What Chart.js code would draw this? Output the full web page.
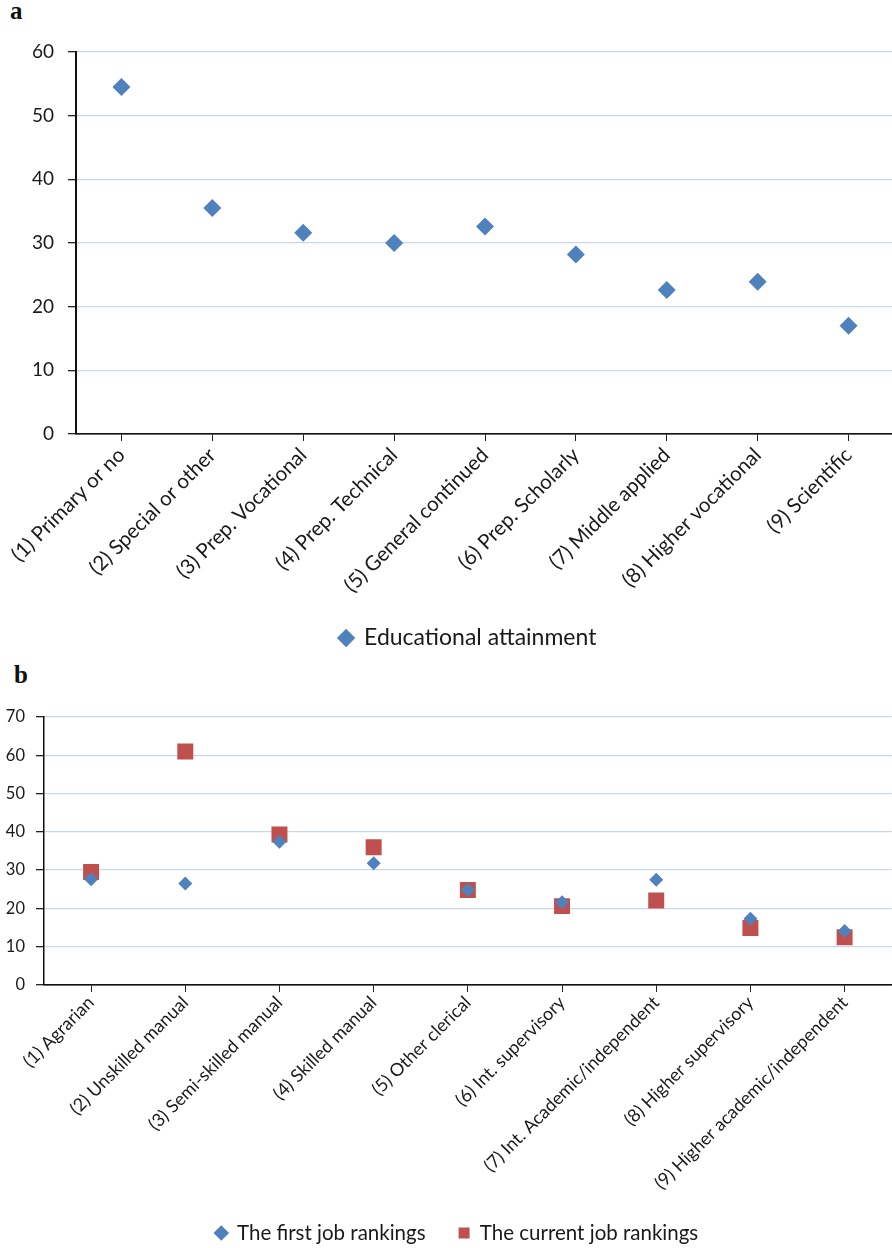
<!DOCTYPE html>
<html>
<head>
<meta charset="utf-8">
<script src="https://cdn.jsdelivr.net/npm/chart.js@4"></script>
<style>
  html, body { margin: 0; padding: 0; background: #fff; }
  body { width: 892px; height: 1248px; position: relative; overflow: hidden; }
  .panel { position: absolute; left: 0; }
  .tag { position: absolute; font-family: "Liberation Serif", "DejaVu Serif", serif; font-weight: bold; font-size: 25px; color: #111; }
</style>
</head>
<body>
<div class="tag" style="left:10px; top:-3px;">a</div>
<div class="tag" style="left:14px; top:661px;">b</div>
<div class="panel" style="top:0; width:903px; height:660px;"><canvas id="ca"></canvas></div>
<div class="panel" style="top:660px; width:903px; height:594px;"><canvas id="cb"></canvas></div>
<script>
const eduCategories = ["(1) Primary or no", "(2) Special or other", "(3) Prep. Vocational", "(4) Prep. Technical", "(5) General continued", "(6) Prep. Scholarly", "(7) Middle applied", "(8) Higher vocational", "(9) Scientific"];
const eduValues = [54.5, 35.5, 31.6, 30.0, 32.6, 28.2, 22.6, 23.9, 17.0];
const eduTicks = [0, 10, 20, 30, 40, 50, 60];

const jobCategories = ["(1) Agrarian", "(2) Unskilled manual", "(3) Semi-skilled manual", "(4) Skilled manual", "(5) Other clerical", "(6) Int. supervisory", "(7) Int. Academic/independent", "(8) Higher supervisory", "(9) Higher academic/independent"];
const firstJob = [27.6, 26.5, 37.4, 31.8, 24.8, 21.6, 27.5, 17.3, 14.1];
const currentJob = [29.5, 61.0, 39.3, 36.0, 24.8, 20.6, 22.1, 14.9, 12.5];
const jobTicks = [0, 10, 20, 30, 40, 50, 60, 70];

const FONT = "Lato, 'Open Sans', sans-serif";
const BLUE = "#4f81bd";
const RED = "#c0504d";
const GRID = "#c9d6ec";
Chart.defaults.font.family = FONT;
Chart.defaults.color = "#1a1a1a";
Chart.defaults.animation = false;

function makeChart(id, cats, datasets, ticks, cfg) {
  return new Chart(document.getElementById(id), {
    type: "line",
    data: { labels: cats, datasets: datasets },
    options: {
      responsive: true,
      maintainAspectRatio: false,
      animation: false,
      layout: { padding: { top: cfg.top, right: cfg.right, left: cfg.left, bottom: cfg.bottom } },
      plugins: {
        tooltip: { enabled: false },
        legend: {
          position: "bottom",
          labels: {
            usePointStyle: true,
            boxWidth: cfg.legendBox,
            boxHeight: cfg.legendBox,
            padding: cfg.legendPad,
            font: { size: cfg.legendFont },
            color: "#1a1a1a"
          }
        }
      },
      scales: {
        x: {
          type: "category",
          offset: true,
          grid: { display: true, drawOnChartArea: false, drawTicks: true, offset: false, tickLength: 7, color: "#222", tickWidth: 1 },
          border: { display: true, color: "#111", width: 1.5 },
          ticks: { autoSkip: false, maxRotation: 45, minRotation: 45, padding: cfg.xPad, font: { size: cfg.xFont }, color: "#1a1a1a" },
          afterFit: (s) => { s.height = cfg.xHeight; s.paddingRight = 0; s.paddingLeft = 0; }
        },
        y: {
          min: 0, max: ticks[ticks.length - 1],
          afterBuildTicks: (s) => { s.ticks = ticks.map(v => ({ value: v })); },
          grid: { color: (c) => c.tick && c.tick.value === 0 ? "#111" : GRID, lineWidth: 1.3, tickLength: 8, tickColor: "#222", drawTicks: true },
          border: { display: true, color: "#111", width: cfg.yBorder },
          ticks: { padding: cfg.yPad, font: { size: cfg.yFont }, color: "#1a1a1a" },
          afterFit: (s) => { s.width = cfg.yWidth; }
        }
      }
    }
  });
}

makeChart("ca", eduCategories, [
  { label: "Educational attainment", data: eduValues, showLine: false, pointStyle: "rectRot", pointRadius: 9, pointBackgroundColor: BLUE, pointBorderColor: BLUE, pointBorderWidth: 0, backgroundColor: BLUE, borderColor: BLUE }
], eduTicks, { top: 52, right: -33, left: 0, bottom: 0.5, xHeight: 182.5, xPad: 2, yWidth: 76, yFont: 19, yPad: 14, xFont: 20.5, legendFont: 23, legendBox: 13, legendPad: 10, yBorder: 2 });

makeChart("cb", jobCategories, [
  { label: "The first job rankings", data: firstJob, showLine: false, pointStyle: "rectRot", pointRadius: 7, pointBackgroundColor: BLUE, pointBorderColor: BLUE, pointBorderWidth: 0, backgroundColor: BLUE, borderColor: BLUE },
  { label: "The current job rankings", data: currentJob, showLine: false, pointStyle: "rect", pointRadius: 11.3, pointBackgroundColor: RED, pointBorderColor: RED, pointBorderWidth: 0, backgroundColor: RED, borderColor: RED }
], jobTicks, { top: 57, right: -11, left: 0, bottom: 0.75, xHeight: 204.75, xPad: 0, yWidth: 44, yFont: 16.5, yPad: 11, xFont: 18, legendFont: 20.5, legendBox: 11, legendPad: 33, yBorder: 1.5 });
</script>
</body>
</html>
